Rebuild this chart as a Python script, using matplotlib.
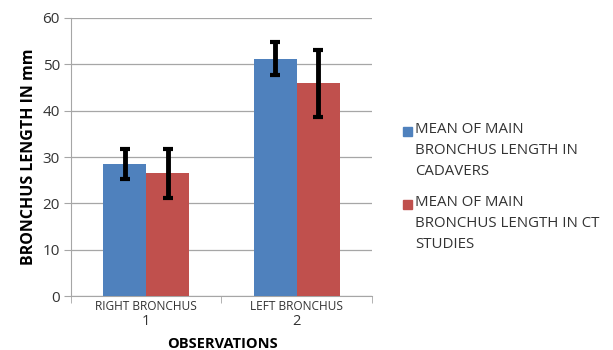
import matplotlib
matplotlib.use("Agg")
import matplotlib.pyplot as plt
import numpy as np
from matplotlib.transforms import blended_transform_factory
from matplotlib.patches import Rectangle

categories = ["RIGHT BRONCHUS", "LEFT BRONCHUS"]
numbers = ["1", "2"]
series_names = ["MEAN OF MAIN\nBRONCHUS LENGTH IN\nCADAVERS",
                "MEAN OF MAIN\nBRONCHUS LENGTH IN CT\nSTUDIES"]
cadaver_mean = [28.5, 51.2]
cadaver_err = [3.3, 3.6]
ct_mean = [26.5, 45.9]
ct_err = [5.3, 7.2]
colors = ["#4F81BD", "#C0504D"]

plt.rcParams['font.family'] = ['Open Sans', 'DejaVu Sans']

W, H = 613, 350
fig = plt.figure(figsize=(6.13, 3.5), dpi=100)
ax = fig.add_axes([0.1158, 0.154, 0.491, 0.7946])

x = np.arange(len(categories))
w = 0.285
ekw = dict(elinewidth=3.5, capthick=3, capsize=3.5, ecolor='black')
ax.bar(x - w/2, cadaver_mean, w, color=colors[0], yerr=cadaver_err,
       error_kw=ekw, zorder=3)
ax.bar(x + w/2, ct_mean, w, color=colors[1], yerr=ct_err,
       error_kw=ekw, zorder=3)

ax.set_xlim(-0.5, 1.5)
ax.set_ylim(0, 60)
ax.set_yticks(np.arange(0, 61, 10))
ax.yaxis.grid(True, color='#A6A6A6', lw=0.9, zorder=0)
ax.tick_params(axis='y', length=5, color='#A6A6A6', labelsize=11, labelcolor='#333333', pad=3)
ax.set_xticks(x)
ax.set_xticklabels(categories, fontsize=8.6, color='#333333')
ax.tick_params(axis='x', which='major', length=0, pad=3)
ax.set_xticks([-0.5, 0.5, 1.5], minor=True)
ax.tick_params(axis='x', which='minor', length=5, color='#A6A6A6')

trans = blended_transform_factory(ax.transData, ax.transAxes)
for xi, n in zip(x, numbers):
    ax.text(xi, -0.09, n, transform=trans, ha='center', va='center',
            fontsize=10.5, color='#333333')

for s in ['top', 'right']:
    ax.spines[s].set_visible(False)
for s in ['left', 'bottom']:
    ax.spines[s].set_color('#A6A6A6')

ax.set_ylabel("BRONCHUS LENGTH IN mm", fontsize=11.5, fontweight='bold', labelpad=4)
fig.text(222 / W, 1 - 337 / H, "OBSERVATIONS", ha='center', va='top', fontsize=10.5,
         fontweight='bold')

# legend drawn manually so the swatch aligns with the first text line
leg_tops = [131, 204]
for name, c, yc in zip(series_names, colors, leg_tops):
    fig.patches.append(Rectangle((403 / W, 1 - (yc + 4.5) / H), 8.5 / W, 8.5 / H,
                                 transform=fig.transFigure, color=c))
    fig.text(415 / W, 1 - (yc - 9) / H, name, ha='left', va='top', fontsize=10.8,
             color='#333333', linespacing=1.55)

fig.savefig("out.png", dpi=100)
